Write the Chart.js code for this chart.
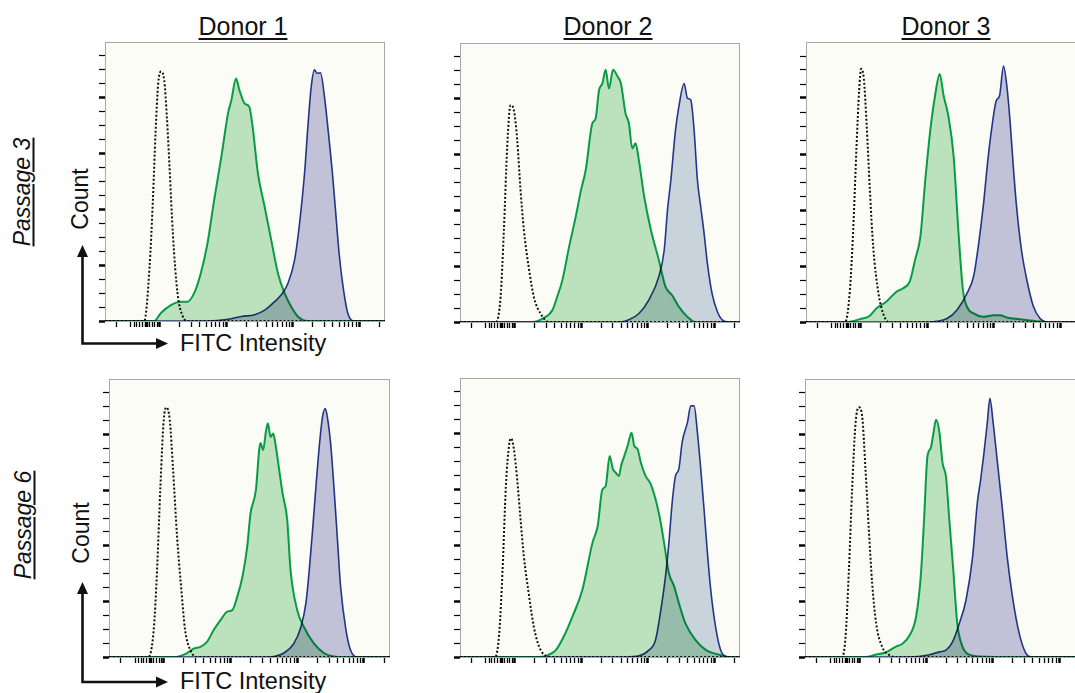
<!DOCTYPE html>
<html>
<head>
<meta charset="utf-8">
<script src="https://cdn.jsdelivr.net/npm/chart.js@4/dist/chart.umd.min.js"></script>
<style>
    html, body { margin: 0; padding: 0; background: #fff; }
    body { width: 1075px; height: 693px; position: relative; overflow: hidden; font-family: "Liberation Sans", Arial, sans-serif; color: #111; }
    .panel { position: absolute; }
    .donor { position: absolute; font-size: 25px; line-height: 25px; text-decoration: underline; text-decoration-thickness: 1.5px; text-underline-offset: 3px; transform: translateX(-50%); white-space: nowrap; }
    .passage { position: absolute; font-size: 23px; line-height: 23px; font-style: italic; text-decoration: underline; text-decoration-thickness: 1.5px; text-underline-offset: 3px; white-space: nowrap; transform: translate(-50%, -50%) rotate(-90deg); }
    .count { position: absolute; font-size: 23px; line-height: 23px; white-space: nowrap; transform: translate(-50%, -50%) rotate(-90deg); }
    .fitc { position: absolute; font-size: 23.5px; line-height: 23.5px; white-space: nowrap; }
    svg.arrows { position: absolute; left: 0; top: 0; }
</style>
</head>
<body>

<div class="donor" style="left:243px; top:14px;">Donor 1</div>
<div class="donor" style="left:608px; top:14px;">Donor 2</div>
<div class="donor" style="left:946px; top:14px;">Donor 3</div>

<div class="passage" style="left:22px; top:192px;">Passage 3</div>
<div class="passage" style="left:23px; top:525px;">Passage 6</div>

<div class="count" style="left:80px; top:199px;">Count</div>
<div class="count" style="left:81px; top:533px;">Count</div>

<div class="fitc" style="left:180px; top:332px;">FITC Intensity</div>
<div class="fitc" style="left:180px; top:670px;">FITC Intensity</div>

<svg class="arrows" width="1075" height="693">
    <g stroke="#111" stroke-width="2.6" fill="none">
        <polyline points="82.5,255 82.5,343.5 158,343.5" />
        <polyline points="82.5,592 82.5,682 158,682" />
    </g>
    <g fill="#111">
        <polygon points="82.5,245 77,257 88,257" />
        <polygon points="168,343.5 156,338 156,349" />
        <polygon points="82.5,582 77,594 88,594" />
        <polygon points="168,682 156,676.5 156,687.5" />
    </g>
</svg>

<div id="panels"></div>

<script>
// x axis in log decades (biexponential display), y axis in counts
const xMin = 1.18;
const xMax = 5.39;
const zeroTicks = [1.35, 1.57, 1.62, 1.66, 1.70, 1.74, 1.80, 1.85, 1.89, 1.93, 1.97];
const decadeTicks = [2, 3, 4, 5];
const zeroTick = 1.80;
const yMax = 490;
const yStep = 24.5;

// Passage 3
const p3d1Ctrl = [[1.18,0],[1.77,0],[1.85,95],[1.90,212],[1.94,330],[1.98,417],[2.02,438],[2.07,423],[2.11,359],[2.15,271],[2.20,154],[2.27,49],[2.35,8],[2.42,0],[5.39,0]];
const p3d1Green = [[1.18,0],[1.92,0],[2.02,14],[2.17,28],[2.32,34],[2.42,34],[2.52,49],[2.62,84],[2.72,136],[2.82,212],[2.93,289],[3.03,365],[3.08,388],[3.15,426],[3.20,406],[3.28,382],[3.35,376],[3.40,341],[3.48,259],[3.58,201],[3.68,142],[3.78,84],[3.88,49],[3.98,25],[4.08,8],[4.23,0],[5.39,0]];
const p3d1Blue = [[1.18,0],[2.72,0],[3.03,3],[3.23,8],[3.43,11],[3.58,19],[3.73,34],[3.83,46],[3.93,66],[4.03,107],[4.10,166],[4.18,259],[4.23,341],[4.28,411],[4.33,441],[4.37,435],[4.42,436],[4.48,394],[4.53,341],[4.60,259],[4.65,189],[4.70,119],[4.76,60],[4.83,14],[4.93,0],[5.39,0]];

const p3d2Ctrl = [[1.18,0],[1.72,0],[1.79,44],[1.84,162],[1.89,308],[1.94,381],[1.99,372],[2.04,320],[2.09,232],[2.14,162],[2.22,91],[2.29,44],[2.39,15],[2.52,0],[5.39,0]];
const p3d2Green = [[1.18,0],[2.27,0],[2.42,6],[2.57,21],[2.64,44],[2.72,74],[2.82,132],[2.92,185],[3.00,232],[3.07,267],[3.17,349],[3.22,358],[3.27,407],[3.32,419],[3.37,443],[3.42,410],[3.48,443],[3.55,431],[3.60,419],[3.67,366],[3.72,349],[3.77,305],[3.82,314],[3.87,284],[3.95,220],[4.05,162],[4.17,109],[4.27,62],[4.37,47],[4.47,27],[4.60,9],[4.72,0],[5.39,0]];
const p3d2Blue = [[1.18,0],[3.57,0],[3.72,4],[3.87,15],[4.02,39],[4.17,80],[4.25,126],[4.30,197],[4.35,249],[4.42,337],[4.47,378],[4.55,419],[4.60,393],[4.65,390],[4.70,337],[4.75,249],[4.80,202],[4.85,156],[4.90,103],[4.97,50],[5.05,18],[5.12,4],[5.23,0],[5.39,0]];

const p3d3Ctrl = [[1.18,0],[1.77,0],[1.84,56],[1.89,162],[1.94,308],[1.98,407],[2.01,443],[2.05,425],[2.09,349],[2.14,232],[2.19,132],[2.27,50],[2.34,15],[2.42,0],[5.39,0]];
const p3d3Green = [[1.18,0],[1.79,0],[1.99,5],[2.14,11],[2.24,24],[2.39,36],[2.54,53],[2.64,59],[2.74,71],[2.82,109],[2.90,150],[2.97,244],[3.05,337],[3.12,396],[3.19,434],[3.25,396],[3.32,361],[3.40,290],[3.47,162],[3.54,56],[3.60,27],[3.70,15],[3.85,9],[4.00,12],[4.10,12],[4.20,8],[4.40,5],[4.60,2],[4.80,0],[5.39,0]];
const p3d3Blue = [[1.18,0],[3.00,0],[3.30,6],[3.45,21],[3.60,50],[3.70,80],[3.77,132],[3.85,208],[3.91,279],[3.97,337],[4.04,387],[4.09,396],[4.15,448],[4.20,413],[4.25,349],[4.30,267],[4.35,197],[4.42,126],[4.50,74],[4.60,27],[4.70,6],[4.80,0],[5.39,0]];

// Passage 6
const p6d1Ctrl = [[1.18,0],[1.77,0],[1.85,48],[1.90,153],[1.95,300],[2.00,418],[2.04,440],[2.09,418],[2.14,330],[2.20,212],[2.26,124],[2.32,48],[2.40,12],[2.50,0],[5.39,0]];
const p6d1Green = [[1.18,0],[2.15,0],[2.35,7],[2.45,15],[2.55,18],[2.65,27],[2.75,48],[2.85,65],[2.95,80],[3.03,83],[3.10,106],[3.18,142],[3.25,194],[3.30,253],[3.38,294],[3.43,365],[3.45,377],[3.49,365],[3.53,397],[3.56,412],[3.60,388],[3.64,394],[3.68,371],[3.73,330],[3.78,289],[3.85,242],[3.90,153],[4.00,83],[4.10,53],[4.25,24],[4.40,7],[4.55,1],[4.70,0],[5.39,0]];
const p6d1Blue = [[1.18,0],[3.45,0],[3.65,1],[3.80,7],[3.95,24],[4.05,51],[4.13,95],[4.18,153],[4.23,224],[4.28,300],[4.33,371],[4.38,424],[4.42,438],[4.45,424],[4.50,377],[4.55,300],[4.60,212],[4.65,124],[4.73,48],[4.80,12],[4.90,0],[5.39,0]];

const p6d2Ctrl = [[1.18,0],[1.71,0],[1.77,42],[1.82,153],[1.87,300],[1.92,374],[1.95,384],[1.99,365],[2.04,312],[2.09,242],[2.14,177],[2.22,106],[2.29,53],[2.37,18],[2.47,2],[2.57,0],[5.39,0]];
const p6d2Green = [[1.18,0],[2.32,0],[2.47,2],[2.62,12],[2.74,36],[2.87,71],[3.02,118],[3.17,200],[3.25,230],[3.32,294],[3.37,300],[3.43,353],[3.48,330],[3.52,324],[3.57,318],[3.60,335],[3.65,353],[3.70,371],[3.76,394],[3.80,371],[3.85,365],[3.90,341],[3.97,318],[4.05,303],[4.17,253],[4.25,200],[4.32,148],[4.40,124],[4.47,95],[4.57,59],[4.72,30],[4.88,12],[5.08,4],[5.23,0],[5.39,0]];
const p6d2Blue = [[1.18,0],[3.67,0],[3.87,2],[4.02,12],[4.12,30],[4.20,83],[4.27,142],[4.32,200],[4.37,271],[4.42,318],[4.47,330],[4.52,377],[4.60,412],[4.65,441],[4.70,441],[4.75,394],[4.80,330],[4.85,259],[4.90,183],[4.95,118],[5.03,48],[5.10,12],[5.18,1],[5.28,0],[5.39,0]];

const p6d3Ctrl = [[1.18,0],[1.74,0],[1.79,36],[1.84,153],[1.89,300],[1.94,412],[1.99,440],[2.04,424],[2.09,330],[2.14,224],[2.19,130],[2.25,59],[2.34,18],[2.44,4],[2.54,0],[5.39,0]];
const p6d3Green = [[1.18,0],[2.09,0],[2.24,4],[2.39,8],[2.54,18],[2.64,23],[2.74,36],[2.85,71],[2.92,142],[2.97,242],[3.02,353],[3.07,368],[3.11,394],[3.15,418],[3.20,397],[3.25,341],[3.30,318],[3.35,242],[3.41,153],[3.47,59],[3.55,18],[3.65,4],[3.80,1],[4.35,0],[5.39,0]];
const p6d3Blue = [[1.18,0],[2.74,0],[3.05,4],[3.20,9],[3.30,12],[3.40,27],[3.50,59],[3.60,100],[3.70,177],[3.77,271],[3.82,312],[3.87,359],[3.92,412],[3.96,456],[4.01,412],[4.07,347],[4.15,259],[4.22,177],[4.30,106],[4.40,42],[4.50,7],[4.60,0],[5.39,0]];

const greenFill = "#bee5c5";
const lavender = "#c4c4e0";
const steel = "#ccd6e5";

// box = plot area in page pixels: left, top, width, height
const panels = [
    { box: [105, 42, 280, 279], ctrl: p3d1Ctrl, green: p3d1Green, blue: p3d1Blue, blueFill: lavender },
    { box: [460, 43, 280, 279], ctrl: p3d2Ctrl, green: p3d2Green, blue: p3d2Blue, blueFill: steel },
    { box: [806, 42, 280, 280], ctrl: p3d3Ctrl, green: p3d3Green, blue: p3d3Blue, blueFill: lavender },
    { box: [109, 379, 281, 278], ctrl: p6d1Ctrl, green: p6d1Green, blue: p6d1Blue, blueFill: lavender },
    { box: [460, 378, 280, 279], ctrl: p6d2Ctrl, green: p6d2Green, blue: p6d2Blue, blueFill: steel },
    { box: [805, 379, 280, 278], ctrl: p6d3Ctrl, green: p6d3Green, blue: p6d3Blue, blueFill: lavender },
];

// tick positions: decades plus log-spaced minors
const xTickValues = zeroTicks.slice();
decadeTicks.forEach(function (d) {
    xTickValues.push(d);
    for (let k = 2; k <= 9; k++) {
        const v = d + Math.log10(k);
        if (v < xMax) xTickValues.push(v);
    }
});
const yTickValues = [];
for (let v = 0; v < yMax - 1; v += yStep) yTickValues.push(v);

const toPoints = (arr) => arr.map((p) => ({ x: p[0], y: p[1] }));

// background, frame and multiply blending of the fills
const framePlugin = {
    id: "frame",
    beforeDraw(chart) {
        const a = chart.chartArea, ctx = chart.ctx;
        ctx.save();
        ctx.fillStyle = "#fbfcf5";
        ctx.fillRect(a.left, a.top, a.right - a.left, a.bottom - a.top);
        ctx.restore();
    },
    beforeDatasetsDraw(chart) {
        const a = chart.chartArea, ctx = chart.ctx;
        ctx.save();
        ctx.strokeStyle = "#a8a8a8";
        ctx.lineWidth = 1;
        ctx.strokeRect(a.left + 0.5, a.top + 0.5, a.right - a.left - 1, a.bottom - a.top);
        ctx.restore();
        ctx.globalCompositeOperation = "multiply";
    },
    afterDatasetsDraw(chart) {
        chart.ctx.globalCompositeOperation = "source-over";
    },
};

const PAD = 4, TICK = 6;
const holder = document.getElementById("panels");

panels.forEach(function (p) {
    const [left, top, w, h] = p.box;
    const wrap = document.createElement("div");
    wrap.className = "panel";
    wrap.style.left = left - PAD - TICK + "px";
    wrap.style.top = top - PAD + "px";
    const canvas = document.createElement("canvas");
    canvas.width = w + 2 * PAD + TICK;
    canvas.height = h + 2 * PAD + TICK;
    wrap.appendChild(canvas);
    holder.appendChild(wrap);

    new Chart(canvas.getContext("2d"), {
        type: "line",
        data: {
            datasets: [
                {
                    label: "Unstained",
                    data: toPoints(p.ctrl),
                    borderColor: "#111",
                    borderWidth: 2,
                    borderDash: [2, 2],
                    fill: false,
                },
                {
                    label: "Passage",
                    data: toPoints(p.green),
                    borderColor: "#0aa651",
                    borderWidth: 2,
                    backgroundColor: greenFill,
                    fill: "origin",
                },
                {
                    label: "Positive",
                    data: toPoints(p.blue),
                    borderColor: "#283c94",
                    borderWidth: 1.6,
                    backgroundColor: p.blueFill,
                    fill: "origin",
                },
            ],
        },
        options: {
            responsive: false,
            animation: false,
            events: [],
            layout: { padding: PAD },
            elements: {
                point: { radius: 0 },
                line: { cubicInterpolationMode: "monotone" },
            },
            plugins: {
                legend: { display: false },
                tooltip: { enabled: false },
            },
            scales: {
                x: {
                    type: "linear",
                    min: xMin,
                    max: xMax,
                    afterBuildTicks: (s) => { s.ticks = xTickValues.map((v) => ({ value: v })); },
                    ticks: { display: false },
                    border: { display: false },
                    grid: {
                        drawOnChartArea: false,
                        tickLength: TICK,
                        tickColor: "#000",
                        tickWidth: (c) => {
                            const v = c.tick ? c.tick.value : 0;
                            if (Math.abs(v - zeroTick) < 0.001) return 3.5;
                            return decadeTicks.includes(v) ? 2.5 : 1.3;
                        },
                    },
                },
                y: {
                    type: "linear",
                    min: 0,
                    max: yMax,
                    afterBuildTicks: (s) => { s.ticks = yTickValues.map((v) => ({ value: v })); },
                    ticks: { display: false },
                    border: { display: false },
                    grid: {
                        drawOnChartArea: false,
                        tickLength: TICK,
                        tickColor: "#000",
                        tickWidth: (c) => {
                            const v = c.tick ? c.tick.value : 0;
                            return Math.round(v / yStep) % 4 === 0 ? 2.5 : 1.2;
                        },
                    },
                },
            },
        },
        plugins: [framePlugin],
    });
});
</script>
</body>
</html>
